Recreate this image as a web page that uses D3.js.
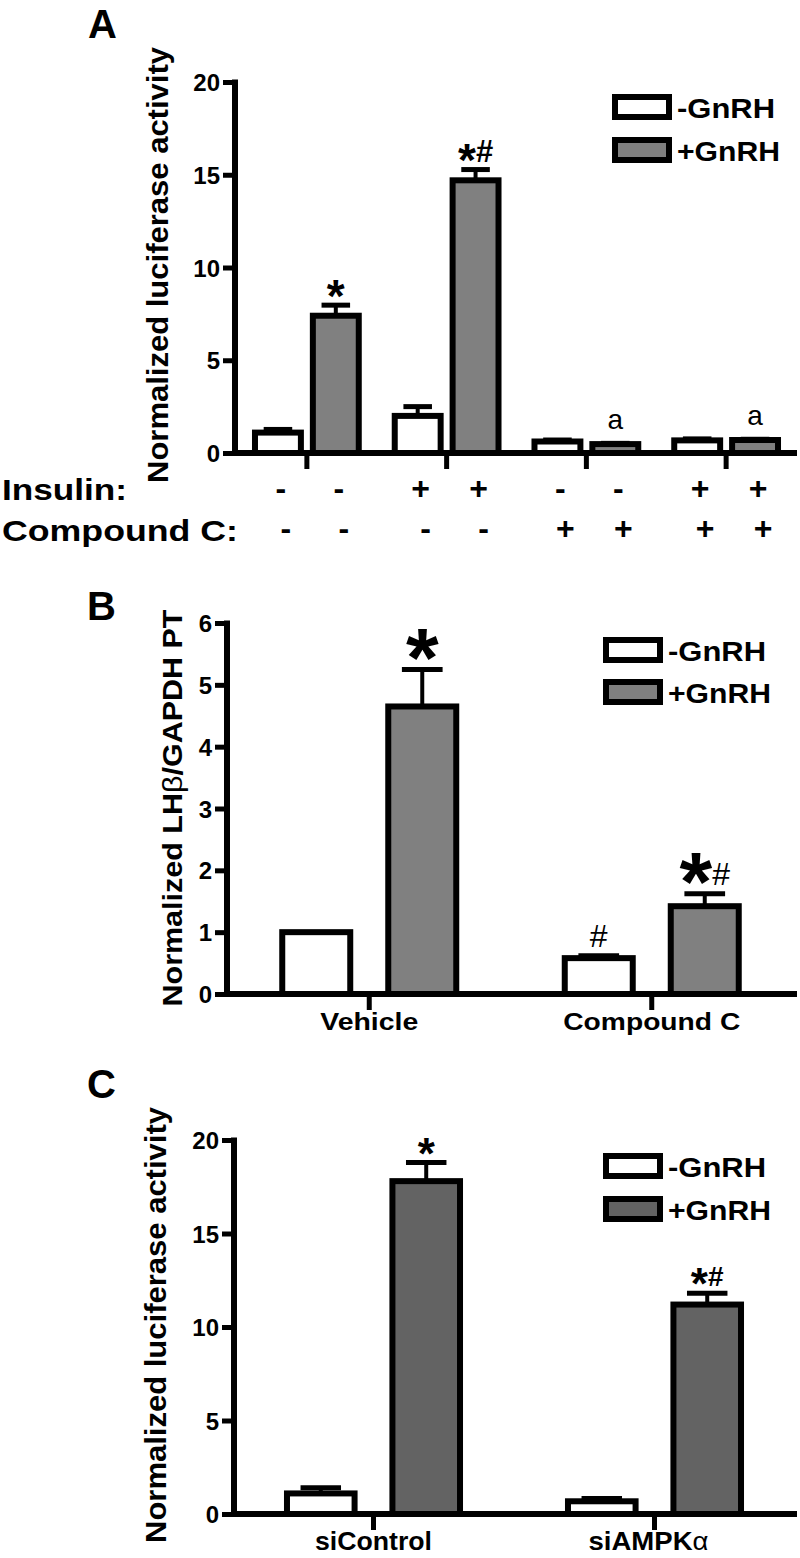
<!DOCTYPE html>
<html>
<head>
<meta charset="utf-8">
<script src="https://cdn.jsdelivr.net/npm/d3@7"></script>
<style>
  body { margin: 0; background: #fff; }
  svg { display: block; }
  text { font-family: 'Liberation Sans', Arial, Helvetica, sans-serif; fill: #000; }
</style>
</head>
<body>
<script>
// ---------------- DATA ----------------
const series = ['-GnRH', '+GnRH'];

// Panel A
const groupsA = ['ctrl', 'insulin', 'compoundC', 'insulin+compoundC'];
const minusA = [1.1, 2.0, 0.62, 0.68];
const minusErrA = [0.17, 0.5, 0.08, 0.08];
const plusA = [7.4, 14.7, 0.48, 0.7];
const plusErrA = [0.57, 0.58, 0.04, 0.04];
const marksMinusA = ['', '', '', ''];
const marksPlusA = ['*', '*#', 'a', 'a'];
const ticksA = [0, 5, 10, 15, 20];
const insulinRow = ['-', '-', '+', '+', '-', '-', '+', '+'];
const compoundRow = ['-', '-', '-', '-', '+', '+', '+', '+'];

// Panel B
const groupsB = ['Vehicle', 'Compound C'];
const minusB = [1.0, 0.58];
const minusErrB = [0, 0.04];
const plusB = [4.65, 1.42];
const plusErrB = [0.6, 0.2];
const marksMinusB = ['', '#'];
const marksPlusB = ['*', '*#'];
const ticksB = [0, 1, 2, 3, 4, 5, 6];

// Panel C
const groupsC = ['siControl', 'siAMPK\u03B1'];
const minusC = [1.1, 0.68];
const minusErrC = [0.3, 0.15];
const plusC = [17.8, 11.2];
const plusErrC = [1.0, 0.6];
const marksMinusC = ['', ''];
const marksPlusC = ['*', '*#'];
const ticksC = [0, 5, 10, 15, 20];

// ---------------- DRAW ----------------
const svg = d3.select('body').append('svg').attr('width', 800).attr('height', 1558);

function mark(g, x, yb, str, o) {
  const t = g.append('text').attr('x', x).attr('y', yb).attr('text-anchor', 'middle');
  let prev = 0;
  for (const ch of str) {
    let size, off, weight = 'bold';
    if (ch === '*') { size = o.star; off = 0.31 * size; }
    else if (ch === '#') { size = o.hash; off = -(o.hashRaise || 0); weight = o.hashWeight || 'bold'; }
    else { size = o.a; off = 0; weight = 'normal'; }
    t.append('tspan').attr('font-size', size).attr('font-weight', weight)
      .attr('dy', off - prev).text(ch);
    prev = off;
  }
}

function legend(g, x, y1, y2, fill, textX, len1, len2) {
  const rows = [{ y: y1, f: '#fff', t: series[0], l: len1 }, { y: y2, f: fill, t: series[1], l: len2 }];
  rows.forEach(r => {
    g.append('rect').attr('x', x + 3).attr('y', r.y + 3).attr('width', 54).attr('height', 20)
      .attr('fill', r.f).attr('stroke', '#000').attr('stroke-width', 6);
    g.append('text').attr('x', textX).attr('y', r.y + 24).attr('font-size', 28).attr('font-weight', 'bold')
      .attr('textLength', r.l).attr('lengthAdjust', 'spacingAndGlyphs').text(r.t);
  });
}

function panel(p) {
  const g = svg.append('g');
  const y = d3.scaleLinear().domain(p.yDomain).range(p.yRange);
  const x = d3.scaleBand().domain(p.groups).range(p.xRange);
  const xi = d3.scaleBand().domain(series).range([0, x.bandwidth()])
    .paddingInner(p.pi).paddingOuter(p.po);

  // y axis
  const ya = g.append('g').attr('transform', `translate(${p.axisX},0)`)
    .call(d3.axisLeft(y).tickValues(p.ticks).tickFormat(d3.format('d'))
      .tickSize(12).tickSizeOuter(0).tickPadding(3));
  ya.select('.domain').remove();
  ya.selectAll('.tick line').attr('stroke', '#000').attr('stroke-width', 5);
  ya.selectAll('.tick text').attr('font-size', 24).attr('font-weight', 'bold')
    .attr('font-family', "'Liberation Sans', Arial, sans-serif").attr('dy', '0.36em');
  g.append('line').attr('x1', p.axisX).attr('x2', p.axisX)
    .attr('y1', y(p.yDomain[1]) - 2.5).attr('y2', y(0)).attr('stroke', '#000').attr('stroke-width', 6);

  // x axis
  const xa = g.append('g').attr('transform', `translate(0,${y(0)})`)
    .call(d3.axisBottom(x).tickSize(16).tickSizeOuter(0).tickFormat(''));
  xa.select('.domain').remove();
  xa.selectAll('.tick line').attr('stroke', '#000').attr('stroke-width', 5);

  // bars
  const data = [];
  p.groups.forEach((gr, i) => {
    data.push({ g: gr, s: series[0], v: p.minus[i], e: p.minusErr[i], m: p.marksMinus[i], f: '#fff' });
    data.push({ g: gr, s: series[1], v: p.plus[i], e: p.plusErr[i], m: p.marksPlus[i], f: p.fill });
  });
  const bw = xi.bandwidth();
  data.forEach(d => {
    const x0 = x(d.g) + xi(d.s);
    const cx = x0 + bw / 2;
    g.append('rect').attr('x', x0 + 3).attr('y', y(d.v)).attr('width', bw - 6)
      .attr('height', Math.max(0, y(0) - y(d.v))).attr('fill', d.f)
      .attr('stroke', '#000').attr('stroke-width', 6);
    let top = y(d.v) - 3;
    if (d.e > 0) {
      const ye = y(d.v + d.e);
      g.append('line').attr('x1', cx).attr('x2', cx).attr('y1', y(d.v)).attr('y2', ye)
        .attr('stroke', '#000').attr('stroke-width', 4);
      g.append('line').attr('x1', cx - bw * 0.275).attr('x2', cx + bw * 0.275).attr('y1', ye).attr('y2', ye)
        .attr('stroke', '#000').attr('stroke-width', 5);
      top = Math.min(top, ye - 2.5);
    }
    if (d.m) {
      const gap = d.m === 'a' ? p.aGap : p.gap;
      mark(g, cx + (p.markDx || 0), top - gap, d.m, p.markOpts);
    }
  });

  // x axis line (drawn last so it sits on top of bar bottoms)
  g.append('line').attr('x1', p.axisX - 3).attr('x2', 797).attr('y1', y(0)).attr('y2', y(0))
    .attr('stroke', '#000').attr('stroke-width', 6);

  return { g, x, y, xi };
}

// ---------- Panel A ----------
const A = panel({
  groups: groupsA, minus: minusA, minusErr: minusErrA, plus: plusA, plusErr: plusErrA,
  marksMinus: marksMinusA, marksPlus: marksPlusA, ticks: ticksA,
  yDomain: [0, 20], yRange: [453, 82], xRange: [237, 796], axisX: 235,
  pi: 0.103, po: 0.259, fill: '#808080', gap: 5, aGap: 12,
  markOpts: { star: 46, hash: 31, a: 28 }
});
A.g.append('text').attr('x', 88).attr('y', 38).attr('font-size', 40).attr('font-weight', 'bold').text('A');
A.g.append('text').attr('transform', 'translate(168,265) rotate(-90)').attr('text-anchor', 'middle')
  .attr('font-size', 29).attr('font-weight', 'bold').attr('textLength', 436).attr('lengthAdjust', 'spacingAndGlyphs')
  .text('Normalized luciferase activity');
legend(A.g, 612, 94, 137, '#808080', 677, 98, 103);
A.g.append('text').attr('x', 2).attr('y', 500).attr('font-size', 30).attr('font-weight', 'bold')
  .attr('textLength', 125).attr('lengthAdjust', 'spacingAndGlyphs').text('Insulin:');
A.g.append('text').attr('x', 2).attr('y', 541).attr('font-size', 30).attr('font-weight', 'bold')
  .attr('textLength', 236).attr('lengthAdjust', 'spacingAndGlyphs').text('Compound C:');
{
  const centers = [];
  groupsA.forEach(gr => series.forEach(s => centers.push(A.x(gr) + A.xi(s) + A.xi.bandwidth() / 2)));
  insulinRow.forEach((s, i) => A.g.append('text').attr('x', centers[i] + 3).attr('y', 499)
    .attr('text-anchor', 'middle').attr('font-size', 32).attr('font-weight', 'bold').text(s));
  compoundRow.forEach((s, i) => A.g.append('text').attr('x', centers[i] + 8).attr('y', 539)
    .attr('text-anchor', 'middle').attr('font-size', 32).attr('font-weight', 'bold').text(s));
}

// ---------- Panel B ----------
const B = panel({
  groups: groupsB, minus: minusB, minusErr: minusErrB, plus: plusB, plusErr: plusErrB,
  marksMinus: marksMinusB, marksPlus: marksPlusB, ticks: ticksB,
  yDomain: [0, 6], yRange: [994, 623], xRange: [228, 793], axisX: 227,
  pi: 0.302, po: 0.4835, fill: '#808080', gap: 6, aGap: 10,
  markOpts: { star: 84, hash: 32, hashWeight: 'normal', hashRaise: 0, a: 28 }
});
B.g.append('text').attr('x', 87).attr('y', 620).attr('font-size', 40).attr('font-weight', 'bold').text('B');
{
  const t = B.g.append('text').attr('transform', 'translate(182,808) rotate(-90)').attr('text-anchor', 'middle')
    .attr('font-size', 27).attr('font-weight', 'bold').attr('textLength', 397).attr('lengthAdjust', 'spacingAndGlyphs');
  t.append('tspan').text('Normalized LH');
  t.append('tspan').attr('font-weight', 'normal').text('\u03B2');
  t.append('tspan').text('/GAPDH PT');
}
legend(B.g, 603, 637, 679, '#808080', 668, 98, 103);
[[groupsB[0], 98], [groupsB[1], 177]].forEach(([c, l]) => {
  B.g.append('text').attr('x', B.x(c) + B.x.bandwidth() / 2).attr('y', 1030).attr('text-anchor', 'middle')
    .attr('font-size', 24).attr('font-weight', 'bold').attr('textLength', l).attr('lengthAdjust', 'spacingAndGlyphs').text(c);
});

// ---------- Panel C ----------
const C = panel({
  groups: groupsC, minus: minusC, minusErr: minusErrC, plus: plusC, plusErr: plusErrC,
  marksMinus: marksMinusC, marksPlus: marksPlusC, ticks: ticksC,
  yDomain: [0, 20], yRange: [1514, 1140], xRange: [233, 795], axisX: 234,
  pi: 0.302, po: 0.4835, fill: '#636363', gap: 5, aGap: 10,
  markOpts: { star: 44, hash: 28, a: 28 }
});
C.g.append('text').attr('x', 87).attr('y', 1098).attr('font-size', 40).attr('font-weight', 'bold').text('C');
C.g.append('text').attr('transform', 'translate(166,1325) rotate(-90)').attr('text-anchor', 'middle')
  .attr('font-size', 29).attr('font-weight', 'bold').attr('textLength', 436).attr('lengthAdjust', 'spacingAndGlyphs')
  .text('Normalized luciferase activity');
legend(C.g, 603, 1153, 1196, '#636363', 668, 98, 103);
[[groupsC[0], 117], [groupsC[1], 120]].forEach(([c, l]) => {
  const t = C.g.append('text').attr('x', C.x(c) + C.x.bandwidth() / 2 - (c === groupsC[1] ? 6 : 0)).attr('y', 1550)
    .attr('text-anchor', 'middle').attr('font-size', 25).attr('font-weight', 'bold')
    .attr('textLength', l).attr('lengthAdjust', 'spacingAndGlyphs');
  if (c.endsWith('\u03B1')) {
    t.append('tspan').text(c.slice(0, -1));
    t.append('tspan').attr('font-weight', 'normal').text('\u03B1');
  } else t.text(c);
});
</script>
</body>
</html>
